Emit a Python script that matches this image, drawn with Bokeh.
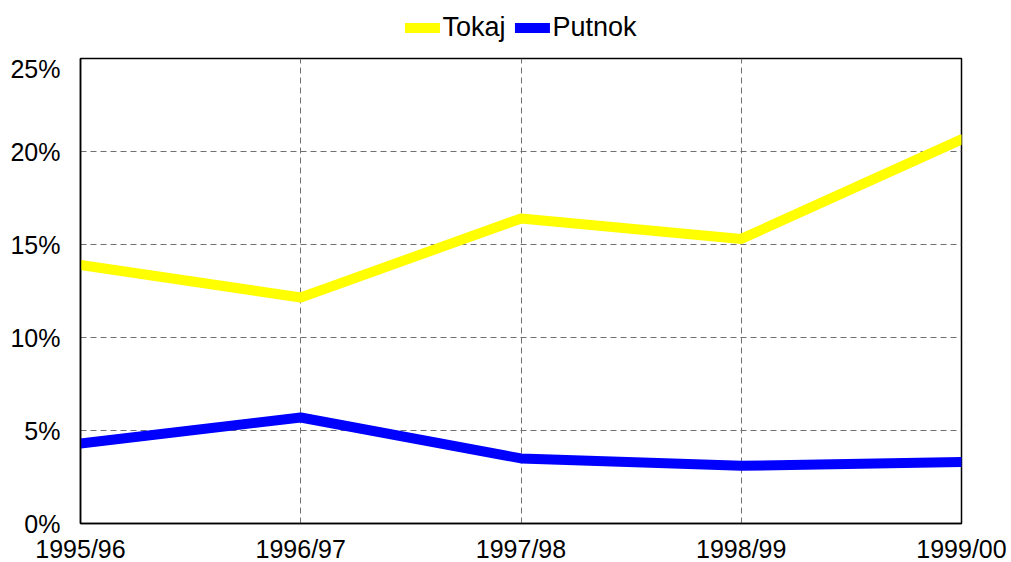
from bokeh.plotting import figure
from bokeh.layouts import column
from bokeh.models import FixedTicker, NumeralTickFormatter, Range1d, Legend, LegendItem
from bokeh.embed import file_html
from bokeh.resources import INLINE

seasons = ["1995/96", "1996/97", "1997/98", "1998/99", "1999/00"]
tokaj = [0.139, 0.1215, 0.164, 0.153, 0.2065]
putnok = [0.043, 0.057, 0.035, 0.031, 0.033]
y_ticks = [0, 0.05, 0.10, 0.15, 0.20, 0.25]

FONT = "Liberation Sans"
xs = list(range(len(seasons)))
TOKAJ_COLOR = "#FFFF00"
PUTNOK_COLOR = "#0000FF"

# main chart
p = figure(frame_width=881, frame_height=465, output_backend="svg", toolbar_location=None,
           x_range=Range1d(0, len(seasons) - 1), y_range=Range1d(0, 0.25),
           min_border_left=80, min_border_right=50, min_border_top=4, min_border_bottom=20)
p.background_fill_color = "white"
p.border_fill_color = "white"
p.outline_line_color = "black"
p.outline_line_width = 1.5

p.line(xs, tokaj, line_color=TOKAJ_COLOR, line_width=10, line_cap="round", line_join="round")
p.line(xs, putnok, line_color=PUTNOK_COLOR, line_width=10, line_cap="round", line_join="round")

for ax in (p.xaxis[0], p.yaxis[0]):
    ax.axis_line_color = "black"
    ax.axis_line_width = 1.5
    ax.major_tick_line_color = None
    ax.minor_tick_line_color = None
    ax.major_tick_out = 0
    ax.major_tick_in = 0
    ax.major_label_text_font = FONT
    ax.major_label_text_font_size = "25px"
    ax.major_label_text_color = "black"

p.xaxis.ticker = FixedTicker(ticks=xs)
p.xaxis.major_label_overrides = {i: s for i, s in enumerate(seasons)}
p.xaxis.major_label_standoff = 11
p.yaxis.ticker = FixedTicker(ticks=y_ticks)
p.yaxis.formatter = NumeralTickFormatter(format="0%")
p.yaxis.major_label_standoff = 20

for g in (p.xgrid[0], p.ygrid[0]):
    g.grid_line_color = "#707070"
    g.grid_line_dash = "6 4"
    g.grid_line_width = 1

# legend strip above the chart (same series, kept outside its own visible range)
lg = figure(width=1011, height=54, output_backend="svg", toolbar_location=None,
            x_range=p.x_range, y_range=Range1d(1, 2),
            x_axis_type=None, y_axis_type=None,
            min_border_left=30, min_border_right=0, min_border_top=0, min_border_bottom=0)
lg.outline_line_color = None
lg.grid.visible = False
lt = lg.line(xs, tokaj, line_color=TOKAJ_COLOR, line_width=10, line_cap="round")
lp = lg.line(xs, putnok, line_color=PUTNOK_COLOR, line_width=10, line_cap="round")

legend = Legend(items=[LegendItem(label="Tokaj", renderers=[lt]),
                       LegendItem(label="Putnok", renderers=[lp])],
                orientation="horizontal", location="center",
                label_text_font=FONT, label_text_font_size="27px",
                label_text_color="black",
                glyph_width=35, glyph_height=28, label_height=28,
                label_standoff=3, spacing=9, padding=0, margin=0,
                border_line_color=None, background_fill_alpha=0)
lg.add_layout(legend, "center")

layout = column(lg, p, spacing=0)
open("out.html", "w").write(file_html(layout, INLINE))
